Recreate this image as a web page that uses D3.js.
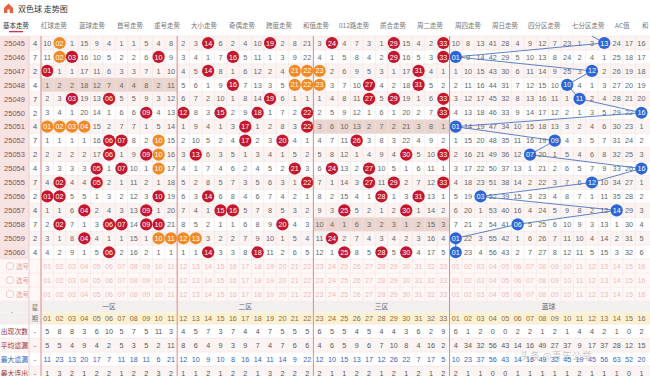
<!DOCTYPE html>
<html>
<head>
<meta charset="utf-8">
<style>
  body { margin: 0; background: #fff; }
  svg { display: block; font-family: "Liberation Sans", "Noto Sans CJK SC", sans-serif; }
</style>
</head>
<body>
<script src="https://d3js.org/d3.v7.min.js"></script>
<svg id="chart" width="650" height="376"></svg>
<script>
// ---------- 数据 ----------
const tabs = ['基本走势', '红球走势', '蓝球走势', '首号走势', '重号走势', '大小走势', '奇偶走势', '跨度走势',
  '和值走势', '012路走势', '质合走势', '周二走势', '周四走势', '周日走势', '四分区走势', '七分区走势', 'AC值', '和'];

const periods = ['25045', '25046', '25047', '25048', '25049', '25050', '25051', '25052',
  '25053', '25054', '25055', '25056', '25057', '25058', '25059', '25060'];
const weekdays = [4, 7, 2, 4, 7, 2, 4, 7, 2, 4, 7, 2, 4, 7, 2, 4];

// 红球遗漏 01-33，0 = 当期开出
const redOmission = [
  [10,0,1,15,9,4,1,1,5,4,8, 2,3,0,6,2,4,10,0,2,8,21, 3,0,4,7,3,1,0,15,4,2,0],
  [11,0,0,16,10,5,2,2,6,0,9, 3,4,1,7,0,5,11,1,3,9,22, 4,1,5,8,4,2,0,16,5,3,0],
  [0,1,1,17,11,6,3,3,7,1,10, 4,5,0,8,1,6,12,2,4,0,0, 0,2,6,9,5,3,1,17,0,4,1],
  [1,2,2,18,12,7,4,4,8,2,11, 5,6,1,9,0,7,13,3,5,0,0, 0,3,7,10,0,4,2,18,0,5,2],
  [2,3,0,19,13,0,5,5,9,3,12, 6,7,2,10,1,8,14,0,6,1,1, 1,4,8,11,0,5,0,19,1,6,0],
  [3,4,1,20,14,1,6,6,0,4,13, 0,8,3,0,2,9,0,1,7,2,0, 2,5,9,12,1,6,1,20,2,7,0],
  [0,0,0,0,15,2,7,7,1,5,14, 1,9,4,1,3,0,1,2,8,3,0, 3,6,10,13,2,7,2,21,3,8,1],
  [1,1,1,1,16,0,0,8,2,0,15, 2,10,5,2,4,0,2,3,0,4,1, 4,7,11,0,3,8,3,22,4,9,2],
  [2,2,2,2,17,0,1,9,0,0,16, 3,0,6,3,5,1,3,4,1,5,2, 5,8,12,1,4,9,4,0,5,10,0],
  [3,3,3,3,0,1,0,10,1,0,17, 4,1,7,4,6,2,4,5,2,0,3, 6,0,13,2,0,10,5,1,6,11,1],
  [4,0,4,4,0,2,1,11,2,1,18, 5,2,8,5,7,3,5,6,3,1,0, 7,1,14,3,0,11,0,2,7,12,0],
  [0,0,5,5,1,3,2,12,3,0,19, 6,3,0,6,8,4,6,7,4,2,1, 8,2,15,4,1,0,1,3,0,13,1],
  [1,1,6,0,2,4,3,13,0,1,20, 7,4,1,0,0,5,7,8,5,3,2, 9,3,0,5,2,1,2,0,1,14,2],
  [2,0,7,1,3,0,0,14,0,0,21, 8,5,2,1,1,6,8,9,0,4,3, 10,4,1,6,3,2,3,1,2,15,3],
  [3,1,8,0,4,1,1,15,1,0,0, 0,0,3,2,2,7,9,10,1,5,4, 11,0,2,7,4,3,4,2,3,16,4],
  [4,2,9,1,5,0,2,16,2,1,1, 1,1,0,3,3,8,0,11,2,6,5, 12,1,0,8,5,0,5,0,4,17,5]
];

// 蓝球遗漏 01-16，0 = 当期开出
const blueOmission = [
  [10,8,13,41,28,4,9,12,7,23,1,3,0,24,17,16],
  [0,9,14,42,29,5,10,13,8,24,2,4,1,25,18,17],
  [1,10,15,43,30,6,11,14,9,25,3,0,2,26,19,18],
  [2,11,16,44,31,7,12,15,10,0,4,1,3,27,20,19],
  [3,12,17,45,32,8,13,16,11,1,0,2,4,28,21,20],
  [4,13,18,46,33,9,14,17,12,2,1,3,5,29,22,0],
  [0,14,19,47,34,10,15,18,13,3,2,4,6,30,23,1],
  [1,15,20,48,35,11,16,19,0,4,3,5,7,31,24,2],
  [2,16,21,49,36,12,0,20,1,5,4,6,8,32,25,3],
  [3,17,22,50,37,13,1,21,2,6,5,7,9,33,26,0],
  [4,18,23,51,38,14,2,22,3,7,6,0,10,34,27,1],
  [5,19,0,52,39,15,3,23,4,8,7,1,11,35,28,2],
  [6,20,1,53,40,16,4,24,5,9,8,2,12,0,29,3],
  [7,21,2,54,41,0,5,25,6,10,9,3,13,1,30,4],
  [0,22,3,55,42,1,6,26,7,11,10,4,14,2,31,5],
  [0,23,4,56,43,2,7,27,8,12,11,5,15,3,32,6]
];
const prevBlue = 11; // 25044 期蓝球

// 橙色标记的红球
const orangeBalls = {
  '25045': [2], '25046': [2], '25047': [21, 22, 23], '25048': [21, 22, 23],
  '25051': [1, 2, 3, 4], '25052': [10], '25053': [10], '25054': [10], '25059': [10, 11, 12, 13]
};
// 区断（整区无号）行
const emptyZones = { '25048': 0, '25051': 2, '25058': 2 };

const zoneNames = ['一区', '二区', '三区', '蓝球'];
const statLabels = ['出现次数', '平均遗漏', '最大遗漏', '最大连出'];
const appearCount = [5,8,8,3,6,10,5,7,5,11,3, 4,5,7,3,7,4,4,7,5,5,5, 6,5,5,4,5,4,4,3,6,2,9,
  6,1,2,0,0,2,2,1,2,1,4,4,2,1,0,2];
const avgOmission = [5,5,4,9,4,2,5,3,5,2,11, 8,6,4,9,3,9,7,4,7,6,6, 4,6,5,9,6,7,10,8,4,16,2,
  4,34,32,56,43,14,16,49,27,37,9,17,37,28,12,15];
const maxOmission = [11,23,13,20,17,7,11,18,11,6,21, 12,10,9,10,8,16,14,11,14,9,22, 12,10,15,13,17,12,26,22,7,17,5,
  10,23,37,56,43,14,16,49,32,45,19,45,56,63,52,20];
const maxRun = [1,3,2,1,2,2,1,2,2,3,2, 1,1,2,1,2,2,1,3,2,2,2, 2,1,1,2,2,1,2,1,2,1,2,
  2,1,1,0,0,1,1,1,1,1,2,1,1,1,0,1];
const selectRows = ['选号', '选号', '选号'];

// ---------- 布局 ----------
const W = 650, H = 376;
const colW = 12.38, rowH = 13.95;
const tableTop = 36, left0 = 41;
const nCols = 49;
const colLabels = d3.range(nCols).map(i => d3.format('02')(i < 33 ? i + 1 : i - 32));

const x = d3.scaleBand().domain(d3.range(nCols)).range([left0, left0 + nCols * colW]);
const y = d3.scaleBand().domain(periods).range([tableTop, tableTop + periods.length * rowH]);
const selTop = tableTop + periods.length * rowH;
const ySel = d3.scaleBand().domain(d3.range(3)).range([selTop, selTop + 3 * rowH]);
const headTop = selTop + 3 * rowH;
const zoneRowH = 11.5, numRowH = 11.5;
const statTop = headTop + zoneRowH + numRowH;
const yStat = d3.scaleBand().domain(statLabels).range([statTop, statTop + 4 * 14]);
const zoneEdges = [0, 11, 22, 33, 49].map(i => left0 + i * colW);

const svg = d3.select('#chart').attr('viewBox', [0, 0, W, H]);

// ---------- 标题和标签 ----------
const hdr = svg.append('g');
hdr.append('path')
  .attr('d', 'M4,8 L8.5,3.5 L13,8 L13,13 L4,13 Z')
  .attr('fill', '#e8603c');
hdr.append('rect').attr('x', 7.3).attr('y', 9.5).attr('width', 2.4).attr('height', 3.5).attr('fill', '#fff');
hdr.append('text').attr('x', 18).attr('y', 11.5)
  .attr('font-size', 8).attr('fill', '#333')
  .attr('font-family', '"Noto Sans CJK SC", sans-serif')
  .text('双色球 走势图');

const tabX = [3, 41, 79, 117, 154, 191, 229, 266, 303, 339, 380, 417, 455, 492, 528, 572, 615, 642];
hdr.selectAll('text.tab').data(tabs).join('text')
  .attr('class', 'tab')
  .attr('x', (d, i) => tabX[i]).attr('y', 27.5)
  .attr('font-size', 6.5)
  .attr('font-family', '"Noto Sans CJK SC", sans-serif')
  .attr('fill', (d, i) => i === 0 ? '#333' : '#777')
  .text(d => d);
hdr.append('rect').attr('x', 9).attr('y', 31).attr('width', 14).attr('height', 1.3).attr('fill', '#d9304a');

// ---------- 表格主体 ----------
const body = svg.append('g');

// 行底色
body.selectAll('rect.row').data(periods).join('rect')
  .attr('x', 0).attr('y', d => y(d)).attr('width', W).attr('height', rowH)
  .attr('fill', (d, i) => i % 2 === 0 ? '#fcf4f3' : '#ffffff');
// 区断底色
body.selectAll('rect.empty').data(Object.entries(emptyZones)).join('rect')
  .attr('x', d => zoneEdges[d[1]]).attr('y', d => y(d[0]))
  .attr('width', d => zoneEdges[d[1] + 1] - zoneEdges[d[1]]).attr('height', rowH)
  .attr('fill', '#ead5ce');
// 期号列
body.selectAll('rect.per').data(periods).join('rect')
  .attr('x', 0).attr('y', d => y(d)).attr('width', 29).attr('height', rowH)
  .attr('fill', '#f7e3e1');

// 选号行
body.selectAll('rect.sel').data(selectRows).join('rect')
  .attr('x', 0).attr('y', (d, i) => ySel(i)).attr('width', W).attr('height', rowH)
  .attr('fill', '#fff8f7');

// 网格线
const grid = body.append('g').attr('stroke', '#f1e2e2').attr('stroke-width', 0.6);
grid.selectAll('line.h').data(d3.range(periods.length + 4)).join('line')
  .attr('x1', 0).attr('x2', W)
  .attr('y1', i => tableTop + i * rowH).attr('y2', i => tableTop + i * rowH);
grid.selectAll('line.v').data(d3.range(nCols)).join('line')
  .attr('x1', i => x(i)).attr('x2', i => x(i))
  .attr('y1', tableTop).attr('y2', H);

// 期号和星期
body.selectAll('text.per').data(periods).join('text')
  .attr('x', 14.5).attr('y', d => y(d) + rowH / 2 + 2.8)
  .attr('text-anchor', 'middle').attr('font-size', 7.5).attr('fill', '#8a5050')
  .text(d => d);
body.selectAll('text.wk').data(weekdays).join('text')
  .attr('x', 35).attr('y', (d, i) => y(periods[i]) + rowH / 2 + 2.8)
  .attr('text-anchor', 'middle').attr('font-size', 7.5).attr('fill', '#555')
  .text(d => d);

// 遗漏数字与号码球
const cells = [];
periods.forEach((p, r) => {
  const vals = redOmission[r].concat(blueOmission[r]);
  vals.forEach((v, c) => {
    const num = c < 33 ? c + 1 : c - 32;
    let kind = 'omit';
    if (v === 0) kind = c >= 33 ? 'blue' : ((orangeBalls[p] || []).includes(num) ? 'orange' : 'red');
    cells.push({ p, c, v, kind, label: colLabels[c] });
  });
});

// 蓝球走势线
const bluePts = periods.map((p, r) => ({ p, c: 33 + blueOmission[r].indexOf(0) }));
const lineGen = d3.line().x(d => x(d.c) + colW / 2).y(d => d.yy);
const linePts = [{ c: 33 + prevBlue - 1, yy: tableTop - rowH / 2 }]
  .concat(bluePts.map(d => ({ c: d.c, yy: y(d.p) + rowH / 2 })));
svg.append('clipPath').attr('id', 'tclip').append('rect')
  .attr('x', 0).attr('y', tableTop).attr('width', W).attr('height', periods.length * rowH);

const ballColor = { red: '#c4162c', orange: '#f08a24', blue: '#2b66d4' };

body.selectAll('text.omit').data(cells.filter(d => d.kind === 'omit')).join('text')
  .attr('x', d => x(d.c) + colW / 2).attr('y', d => y(d.p) + rowH / 2 + 2.7)
  .attr('text-anchor', 'middle').attr('font-size', 7.3).attr('fill', '#666')
  .text(d => d.v);

body.append('path').datum(linePts)
  .attr('clip-path', 'url(#tclip)')
  .attr('d', lineGen).attr('fill', 'none')
  .attr('stroke', '#4a74c4').attr('stroke-width', 0.9);

const balls = body.selectAll('g.ball').data(cells.filter(d => d.kind !== 'omit')).join('g')
  .attr('transform', d => `translate(${x(d.c) + colW / 2},${y(d.p) + rowH / 2})`);
balls.append('circle').attr('r', 6.1).attr('fill', d => ballColor[d.kind]);
balls.append('text').attr('y', 2.6).attr('text-anchor', 'middle')
  .attr('font-size', 7.2).attr('fill', '#fff').text(d => d.label);

// 选号行文字
selectRows.forEach((s, i) => {
  const g = body.append('g').attr('transform', `translate(0,${ySel(i) + rowH / 2})`);
  g.append('circle').attr('cx', 10).attr('cy', 0).attr('r', 3.6)
    .attr('fill', '#fff').attr('stroke', '#f0b4b4').attr('stroke-width', 0.8);
  g.append('text').attr('x', 16).attr('y', 2.6).attr('font-size', 6.5)
    .attr('font-family', '"Noto Sans CJK SC", sans-serif').attr('fill', '#e9a2a2').text(s);
  g.selectAll('text.n').data(colLabels).join('text')
    .attr('x', (d, c) => x(c) + colW / 2).attr('y', 2.7)
    .attr('text-anchor', 'middle').attr('font-size', 7.2).attr('fill', '#f0b8b8')
    .text(d => d);
});

// ---------- 底部统计 ----------
const foot = svg.append('g');
foot.append('rect').attr('x', 0).attr('y', headTop).attr('width', W).attr('height', zoneRowH).attr('fill', '#f3efef');
foot.append('rect').attr('x', left0).attr('y', headTop + zoneRowH).attr('width', W - left0).attr('height', numRowH).attr('fill', '#fdf1d4');
foot.append('rect').attr('x', 0).attr('y', headTop + zoneRowH).attr('width', left0).attr('height', numRowH).attr('fill', '#f3efef');
foot.append('text').attr('x', 12).attr('y', headTop + 13).attr('text-anchor', 'middle')
  .attr('font-size', 7).attr('fill', '#999').text('-');
foot.append('text').attr('x', 35).attr('y', headTop + 8.5).attr('text-anchor', 'middle')
  .attr('font-size', 6.5).attr('font-family', '"Noto Sans CJK SC", sans-serif').attr('fill', '#777').text('星');
foot.append('text').attr('x', 35).attr('y', headTop + 19.5).attr('text-anchor', 'middle')
  .attr('font-size', 6.5).attr('font-family', '"Noto Sans CJK SC", sans-serif').attr('fill', '#777').text('期');
foot.selectAll('text.zone').data(zoneNames).join('text')
  .attr('x', (d, i) => (zoneEdges[i] + zoneEdges[i + 1]) / 2).attr('y', headTop + 8.3)
  .attr('text-anchor', 'middle').attr('font-size', 6.8)
  .attr('font-family', '"Noto Sans CJK SC", sans-serif').attr('fill', '#666').text(d => d);
foot.selectAll('text.num').data(colLabels).join('text')
  .attr('x', (d, c) => x(c) + colW / 2).attr('y', headTop + zoneRowH + 8.4)
  .attr('text-anchor', 'middle').attr('font-size', 7.2).attr('fill', '#8a6a3a').text(d => d);

const statRows = [
  { label: statLabels[0], vals: appearCount, color: '#555', lc: '#a0302f' },
  { label: statLabels[1], vals: avgOmission, color: '#555', lc: '#a0302f' },
  { label: statLabels[2], vals: maxOmission, color: '#3561c0', lc: '#3561c0' },
  { label: statLabels[3], vals: maxRun, color: '#555', lc: '#a0302f' }
];
statRows.forEach((s, i) => {
  const yy = yStat(s.label);
  foot.append('rect').attr('x', 0).attr('y', yy).attr('width', W).attr('height', 14)
    .attr('fill', i % 2 === 0 ? '#fff' : '#fcf4f3');
  foot.append('line').attr('x1', 0).attr('x2', W).attr('y1', yy).attr('y2', yy)
    .attr('stroke', '#f1e2e2').attr('stroke-width', 0.6);
  foot.append('text').attr('x', 28).attr('y', yy + 9.7).attr('text-anchor', 'end')
    .attr('font-size', 6.8).attr('font-family', '"Noto Sans CJK SC", sans-serif')
    .attr('fill', s.lc).text(s.label);
  foot.append('text').attr('x', 35).attr('y', yy + 9.7).attr('text-anchor', 'middle')
    .attr('font-size', 7.2).attr('fill', '#666').text('-');
  foot.selectAll(null).data(s.vals).join('text')
    .attr('x', (d, c) => x(c) + colW / 2).attr('y', yy + 9.7)
    .attr('text-anchor', 'middle').attr('font-size', 7.2).attr('fill', s.color).text(d => d);
});

// 竖向分隔线
const vlines = [{ x: 29, c: '#efc9c9' }, { x: left0, c: '#e08888' }]
  .concat(zoneEdges.slice(1, 4).map(v => ({ x: v, c: '#e08888' })));
svg.append('g').selectAll('line').data(vlines).join('line')
  .attr('x1', d => d.x).attr('x2', d => d.x).attr('y1', tableTop).attr('y2', H)
  .attr('stroke', d => d.c).attr('stroke-width', 1);

// 水印
svg.append('text').attr('x', 520).attr('y', 360).attr('font-size', 10)
  .attr('font-family', '"Noto Sans CJK SC", sans-serif')
  .attr('fill', '#888').attr('opacity', 0.45).text('头条 @青年公举');
</script>
</body>
</html>
